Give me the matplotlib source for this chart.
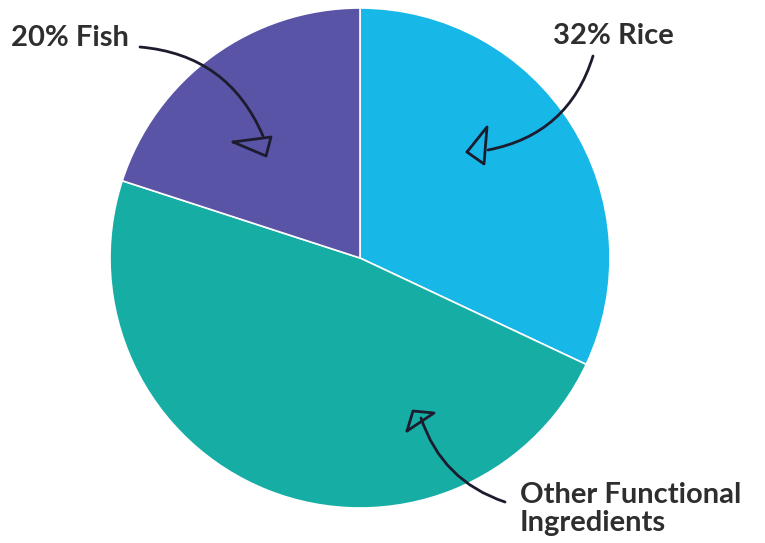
"""
Pie chart of ingredient shares with hand-drawn style arrows
"""
import matplotlib.pyplot as plt

labels = ["32% Rice", "Other Functional\nIngredients", "20% Fish"]
shares = [32, 48, 20]
colors = ["#17B7E8", "#16ADA5", "#5A54A6"]

W, H = 765, 543


def py(y):
    # picture y (top down) -> axes y (bottom up)
    return H - y


if __name__ == "__main__":
    fig = plt.figure(figsize=(W / 100, H / 100), dpi=100)
    ax = fig.add_axes([0, 0, 1, 1])

    ax.pie(shares, colors=colors, startangle=90, counterclock=False,
           center=(360, py(258)), radius=250, frame=True,
           wedgeprops=dict(edgecolor="white", linewidth=1.2))
    ax.set_xlim(0, W)
    ax.set_ylim(0, H)
    ax.set_aspect("equal")
    ax.axis("off")

    text_kw = dict(fontsize=21, fontweight="bold", color="#2e2e2e",
                   family=["Lato", "DejaVu Sans"], va="center")
    ax.text(553, py(36), labels[0], ha="left", **text_kw)
    ax.text(520, py(509), labels[1], ha="left", linespacing=1.12, **text_kw)
    ax.text(11, py(38), labels[2], ha="left", **text_kw)

    # arrows
    ink = "#1c1c2e"
    arrows = [
        ((140, 47), (263, 136), "arc3,rad=-0.3"),
        ((593, 56), (488, 150), "arc3,rad=-0.3"),
        ((505, 502), (421, 418), "arc3,rad=-0.25"),
    ]
    for start, end, style in arrows:
        ax.annotate("", xy=(end[0], py(end[1])), xytext=(start[0], py(start[1])),
                    arrowprops=dict(arrowstyle="-", color=ink, lw=2,
                                    connectionstyle=style, shrinkA=0, shrinkB=0))

    heads = [
        [(233, 142), (271, 137), (266, 156), (233, 142)],
        [(467, 152), (487, 127), (484, 164), (467, 152)],
        [(407, 431), (413, 411), (434, 413), (407, 431)],
    ]
    for pts in heads:
        ax.plot([p[0] for p in pts], [py(p[1]) for p in pts], color=ink, lw=2,
                solid_joinstyle="round", solid_capstyle="round")

    fig.savefig("out.png", dpi=100)
